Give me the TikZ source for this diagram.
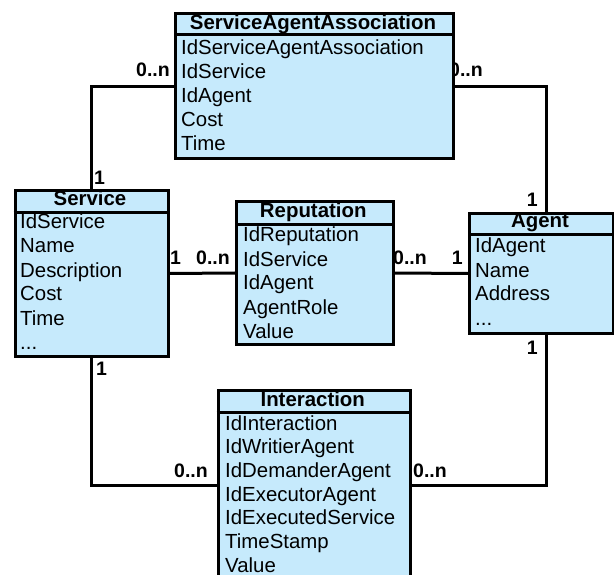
\documentclass[tikz,border=0pt]{standalone}
\usepackage{fontspec}
\setmainfont{Liberation Sans}
\definecolor{ebox}{HTML}{C6EAFC}
\tikzset{
 ent/.style={draw, fill=ebox, line width=3pt, anchor=north west, inner sep=0pt},
 sep/.style={line width=3pt},
 hdr/.style={anchor=base, inner sep=0pt, font=\fontsize{20.4}{24}\selectfont\bfseries},
 row/.style={anchor=base west, inner sep=0pt, font=\fontsize{20.4}{24}\selectfont},
 mult/.style={inner sep=0pt, font=\fontsize{19.5}{22}\selectfont\bfseries},
 conn/.style={line width=3pt},
}
\begin{document}
\begin{tikzpicture}[x=1pt,y=-1pt]
\useasboundingbox (0,0) rectangle (614,575);
% entity frames (positions)
\node[ent, minimum width=278pt, minimum height=144.5pt] (saa) at (174,12.5) {};
\node[ent, minimum width=153pt, minimum height=166pt] (svc) at (13.5,189) {};
\node[ent, minimum width=156.5pt, minimum height=143pt] (rep) at (235,200) {};
\node[ent, minimum width=144pt, minimum height=119pt] (agt) at (468,212.5) {};
\node[ent, minimum width=192.5pt, minimum height=191.5pt] (int) at (216.5,388.5) {};
% label hidden partly behind the box
\node[mult, anchor=base east] (l2a) at (483,77) {0..n};
% connectors
\draw[conn] (saa.west) -| ([xshift=77.5pt]svc.north west);
\draw[conn] (saa.east) -| ([xshift=78pt]agt.north west);
\draw[conn] (svc.east) -- (rep.west);
\draw[conn] (rep.east) -- (agt.west);
\draw[conn] ([xshift=77.5pt]svc.south west) |- (int.west);
\draw[conn] ([xshift=78pt]agt.south west) |- (int.east);
% redraw boxes on top
\node[ent, minimum width=278pt, minimum height=144.5pt] at (174,12.5) {};
\node[ent, minimum width=153pt, minimum height=166pt] at (13.5,189) {};
\node[ent, minimum width=156.5pt, minimum height=143pt] at (235,200) {};
\node[ent, minimum width=144pt, minimum height=119pt] at (468,212.5) {};
\node[ent, minimum width=192.5pt, minimum height=191.5pt] at (216.5,388.5) {};
% header separators
\draw[sep] ([yshift=-22.5pt]saa.north west) -- ([yshift=-22.5pt]saa.north east);
\draw[sep] ([yshift=-24pt]svc.north west) -- ([yshift=-24pt]svc.north east);
\draw[sep] ([yshift=-25pt]rep.north west) -- ([yshift=-25pt]rep.north east);
\draw[sep] ([yshift=-22pt]agt.north west) -- ([yshift=-22pt]agt.north east);
\draw[sep] ([yshift=-24pt]int.north west) -- ([yshift=-24pt]int.north east);
% headers
\node[hdr] (saah) at (313,30) {ServiceAgentAssociation};
\node[hdr] (svch) at (90,206) {Service};
\node[hdr] (reph) at (313.25,218) {Reputation};
\node[hdr] (agth) at (540,228) {Agent};
\node[hdr] (inth) at (312.75,406) {Interaction};
% rows
\foreach \t [count=\i from 0] in {IdServiceAgentAssociation,IdService,IdAgent,Cost,Time}
  \node[row] (saa\i) at (181,{55+24*\i}) {\t};
\foreach \t [count=\i from 0] in {IdService,Name,Description,Cost,Time}
  \node[row] (svc\i) at (20,{229+24*\i}) {\t};
\node[row] (svc5) at (20,349) {...};
\foreach \t [count=\i from 0] in {IdReputation,IdService,IdAgent,AgentRole,Value}
  \node[row] (rep\i) at (243,{242+24*\i}) {\t};
\foreach \t [count=\i from 0] in {IdAgent,Name,Address}
  \node[row] (agt\i) at (475,{253+24*\i}) {\t};
\node[row] (agt3) at (475,325) {...};
\foreach \t [count=\i from 0] in {IdInteraction,IdWritierAgent,IdDemanderAgent,IdExecutorAgent,IdExecutedService,TimeStamp,Value}
  \node[row] (int\i) at (225,{430+23.7*\i}) {\t};
% multiplicities
\node[mult, anchor=base east] (l1a) at (170,77) {0..n};
\node[mult, anchor=base west] (l1b) at (94,185) {1};
\node[mult, anchor=base east] (l2b) at (538,207) {1};
\node[mult, anchor=base west] (l3a) at (170,265) {1};
\node[mult, anchor=base east] (l3b) at (230,265) {0..n};
\node[mult, anchor=base west] (l4a) at (393,265) {0..n};
\node[mult, anchor=base east] (l4b) at (463,265) {1};
\node[mult, anchor=base west] (l5a) at (96,375) {1};
\node[mult, anchor=base east] (l5b) at (208,477) {0..n};
\node[mult, anchor=base east] (l6a) at (538,354) {1};
\node[mult, anchor=base west] (l6b) at (413,477) {0..n};
\end{tikzpicture}
\end{document}
